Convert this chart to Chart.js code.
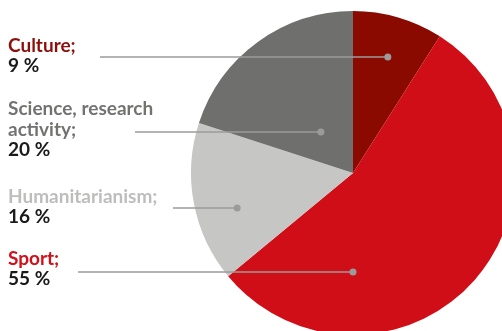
<!DOCTYPE html>
<html>
<head>
<meta charset="utf-8">
<script src="https://cdn.jsdelivr.net/npm/chart.js@4"></script>
<style>
  html, body { margin: 0; padding: 0; background: #fff; }
  #wrap { width: 502px; height: 331px; overflow: hidden; position: relative; }
  #grafico { position: absolute; left: 0; top: 0; }
</style>
</head>
<body>
<div id="wrap"><canvas id="grafico" width="530" height="345"></canvas></div>
<script>
var categorias = ["Culture", "Sport", "Humanitarianism", "Science, research activity"];
var valores = [9, 55, 16, 20];
var coresFatias = ["#8a0a00", "#d00e17", "#c6c7c5", "#6f706e"];
var coresTexto = ["#8b0f0a", "#d20f1a", "#bdbebc", "#727371"];
// rotulos: linhas de texto por categoria (mesma ordem)
var linhasRotulo = [["Culture;"], ["Sport;"], ["Humanitarianism;"], ["Science, research", "activity;"]];

// posicoes dos rotulos e das linhas de chamada
var layoutRotulos = [
  { y: 52, lineX: 100, lineY: 57, dot: [0.215, -0.715] },
  { y: 265, lineX: 78, lineY: 272, dot: [0.0, 0.61] },
  { y: 203, lineX: 173, lineY: 208, dot: [-0.715, 0.22] },
  { y: 115, lineX: 135, lineY: 132, dot: [-0.198, -0.25] }
];

var rotulos = {
  id: "rotulos",
  afterDatasetsDraw: function (chart) {
    var ctx = chart.ctx;
    var arc = chart.getDatasetMeta(0).data[0];
    var cx = arc.x, cy = arc.y, r = arc.outerRadius;
    ctx.save();
    valores.forEach(function (v, i) {
      var L = layoutRotulos[i];
      var dx = cx + L.dot[0] * r, dy = cy + L.dot[1] * r;
      ctx.strokeStyle = "#9b9b9b";
      ctx.lineWidth = 1.5;
      ctx.beginPath();
      ctx.moveTo(L.lineX, L.lineY);
      ctx.lineTo(dx, L.lineY);
      ctx.stroke();
      ctx.fillStyle = "#9b9b9b";
      ctx.beginPath();
      ctx.arc(dx, L.lineY, 3.5, 0, Math.PI * 2);
      ctx.fill();

      ctx.textAlign = "left";
      ctx.textBaseline = "alphabetic";
      ctx.font = "bold 19px Lato";
      ctx.fillStyle = coresTexto[i];
      var y = L.y;
      linhasRotulo[i].forEach(function (t) {
        ctx.fillText(t, 8, y);
        y += 21;
      });
      ctx.fillStyle = "#1a1a1a";
      ctx.fillText(v + " %", 8, y - 1);
    });
    ctx.restore();
  }
};

new Chart(document.getElementById("grafico").getContext("2d"), {
  type: "pie",
  data: {
    labels: categorias,
    datasets: [{
      data: valores,
      backgroundColor: coresFatias,
      borderWidth: 0
    }]
  },
  options: {
    responsive: false,
    animation: false,
    layout: { padding: { left: 191, top: 11, right: 15, bottom: 10 } },
    plugins: {
      legend: { display: false },
      tooltip: { enabled: false }
    }
  },
  plugins: [rotulos]
});
</script>
</body>
</html>
